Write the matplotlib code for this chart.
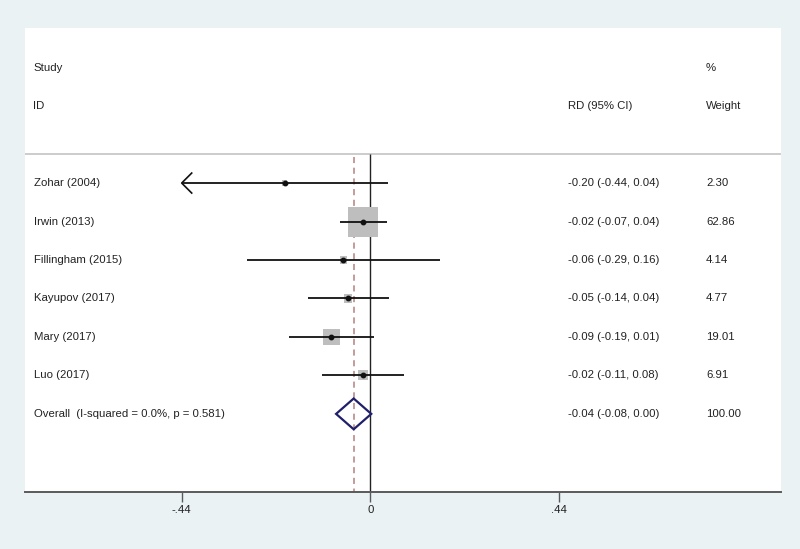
import matplotlib
matplotlib.use("Agg")
import matplotlib.pyplot as plt
import numpy as np

# ---- data ----
studies = ["Zohar (2004)", "Irwin (2013)", "Fillingham (2015)", "Kayupov (2017)",
           "Mary (2017)", "Luo (2017)"]
est = [-0.200, -0.017, -0.063, -0.052, -0.091, -0.017]
ci_low = [-0.440, -0.072, -0.287, -0.145, -0.189, -0.112]
ci_high = [0.040, 0.039, 0.162, 0.043, 0.008, 0.079]
weights = [2.30, 62.86, 4.14, 4.77, 19.01, 6.91]
rd_labels = ["-0.20 (-0.44, 0.04)", "-0.02 (-0.07, 0.04)", "-0.06 (-0.29, 0.16)",
             "-0.05 (-0.14, 0.04)", "-0.09 (-0.19, 0.01)", "-0.02 (-0.11, 0.08)"]
weight_labels = ["2.30", "62.86", "4.14", "4.77", "19.01", "6.91"]

overall_label = "Overall  (I-squared = 0.0%, p = 0.581)"
overall_est = -0.039
overall_low = -0.080
overall_high = 0.002
overall_rd_label = "-0.04 (-0.08, 0.00)"
overall_weight_label = "100.00"

xticks = [-0.44, 0, 0.44]
xticklabels = ["-.44", "0", ".44"]

# ---- layout ----
W, H = 800, 549
fig = plt.figure(figsize=(W / 100, H / 100), dpi=100)
fig.patch.set_facecolor("#EAF2F4")
plt.rcParams["font.family"] = ["Liberation Sans", "DejaVu Sans"]

left_px, right_px, top_px, bot_px = 24.5, 780.6, 28, 492
ax = fig.add_axes([left_px / W, 1 - bot_px / H, (right_px - left_px) / W, (bot_px - top_px) / H])
ax.set_facecolor("white")

px_per_unit = 188.7 / 0.44
x0_px = 370.4
xmin = (left_px - x0_px) / px_per_unit
xmax = (right_px - x0_px) / px_per_unit
ax.set_xlim(xmin, xmax)
ax.set_ylim(9.03, -3.03)

for s in ["top", "left", "right"]:
    ax.spines[s].set_visible(False)
ax.spines["bottom"].set_color("#5a5a5a")
ax.spines["bottom"].set_linewidth(1.4)
ax.set_yticks([])
ax.set_xticks(xticks)
ax.set_xticklabels(xticklabels)
ax.tick_params(axis="x", length=7, width=1, color="#5a5a5a", pad=2.5,
               labelsize=8.2, labelcolor="#222222")

fs = 8.2
tc = "#222222"
x_label = (33.5 - x0_px) / px_per_unit
x_rd = (567.5 - x0_px) / px_per_unit
x_w = (706.0 - x0_px) / px_per_unit

# header
ax.text(x_label, -2, "Study", fontsize=fs, color=tc, va="center", ha="left")
ax.text(x_label, -1, "ID", fontsize=fs, color=tc, va="center", ha="left")
ax.text(x_rd, -1, "RD (95% CI)", fontsize=fs, color=tc, va="center", ha="left")
ax.text(x_w, -2, "%", fontsize=fs, color=tc, va="center", ha="left")
ax.text(x_w, -1, "Weight", fontsize=fs, color=tc, va="center", ha="left")
ax.axhline(0.25, color="#C4C4C4", lw=1.2)

# reference lines
ax.vlines(0, 0.25, 9.03, color="#222222", lw=1.0, zorder=2)
ax.vlines(overall_est, 0.32, 9.03, color="#B58080", lw=1.1, linestyles=(0, (4, 3)), zorder=2)

# studies
ys = np.arange(1, len(studies) + 1)
max_w = max(weights)
side_px = 30 * np.sqrt(np.array(weights) / max_w)
side_pt = side_px * 72 / 100
ax.scatter(est, ys, marker="s", s=side_pt ** 2, color="#BEBEBE", linewidths=0, zorder=3)

arrow_dx = 10 / px_per_unit
arrow_dy = 10 / 38.5
for y, e, lo, hi, name, rl, wl in zip(ys, est, ci_low, ci_high, studies, rd_labels, weight_labels):
    lo_c = max(lo, xticks[0])
    ax.plot([lo_c, hi], [y, y], color="#111111", lw=1.3, zorder=4, solid_capstyle="butt")
    if lo <= xticks[0]:
        ax.plot([lo_c + arrow_dx, lo_c, lo_c + arrow_dx], [y - arrow_dy, y, y + arrow_dy],
                color="#111111", lw=1.2, zorder=4)
    ax.plot([e], [y], marker="o", ms=3.2, color="#111111", zorder=5)
    ax.text(x_label, y, name, fontsize=fs, color=tc, va="center", ha="left")
    ax.text(x_rd, y, rl, fontsize=fs, color=tc, va="center", ha="left")
    ax.text(x_w, y, wl, fontsize=fs, color=tc, va="center", ha="left")

# overall
yo = len(studies) + 1
dh = 0.4
ax.fill([overall_low, overall_est, overall_high, overall_est],
        [yo, yo - dh, yo, yo + dh], facecolor="none", edgecolor="#1F1F6B", lw=1.6, zorder=6)
ax.text(x_label, yo, overall_label, fontsize=fs, color=tc, va="center", ha="left")
ax.text(x_rd, yo, overall_rd_label, fontsize=fs, color=tc, va="center", ha="left")
ax.text(x_w, yo, overall_weight_label, fontsize=fs, color=tc, va="center", ha="left")

fig.savefig("out.png", dpi=100, facecolor=fig.get_facecolor())
